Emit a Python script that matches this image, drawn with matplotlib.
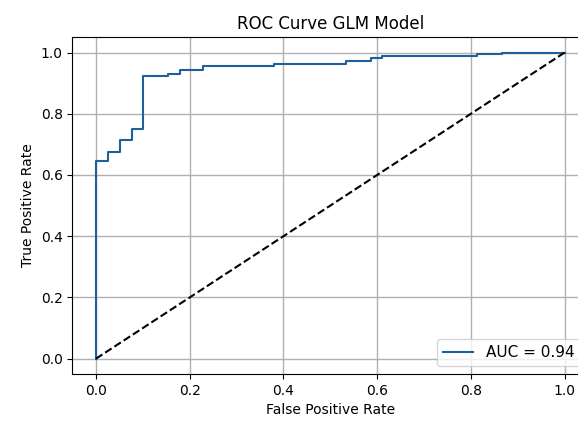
import numpy as np
import matplotlib
matplotlib.use('Agg')
import matplotlib.pyplot as plt

# ROC punktlari
fpr = [0.0, 0.0, 0.025, 0.025, 0.051, 0.051, 0.076, 0.076, 0.10, 0.10, 0.153, 0.153,
       0.179, 0.179, 0.228, 0.228, 0.38, 0.38, 0.533, 0.533, 0.587, 0.587, 0.61, 0.61,
       0.813, 0.813, 0.866, 0.866, 1.0, 1.0]
tpr = [0.0, 0.645, 0.645, 0.676, 0.676, 0.714, 0.714, 0.75, 0.75, 0.923, 0.923, 0.929,
       0.929, 0.942, 0.942, 0.955, 0.955, 0.962, 0.962, 0.972, 0.972, 0.983, 0.983, 0.988,
       0.988, 0.994, 0.994, 0.997, 0.997, 1.0]
auc = 0.94

fig = plt.figure(figsize=(5.78, 4.21), dpi=100)
ax = fig.add_axes([0.1254, 0.1116, 0.892, 0.80])
ax.plot(fpr, tpr, color='#1f5f9a', lw=1.5, label='AUC = %0.2f' % auc)
ax.plot([0, 1], [0, 1], 'k--', lw=1.5)
ax.set_xlim(-0.05, 1.05)
ax.set_ylim(-0.05, 1.05)
ax.set_title('ROC Curve GLM Model')
ax.set_xlabel('False Positive Rate')
ax.set_ylabel('True Positive Rate')
ax.grid(True, color='#b0b0b0', lw=1.0)
ax.legend(loc='lower right', fontsize=11)
fig.savefig('out.png', dpi=100)
